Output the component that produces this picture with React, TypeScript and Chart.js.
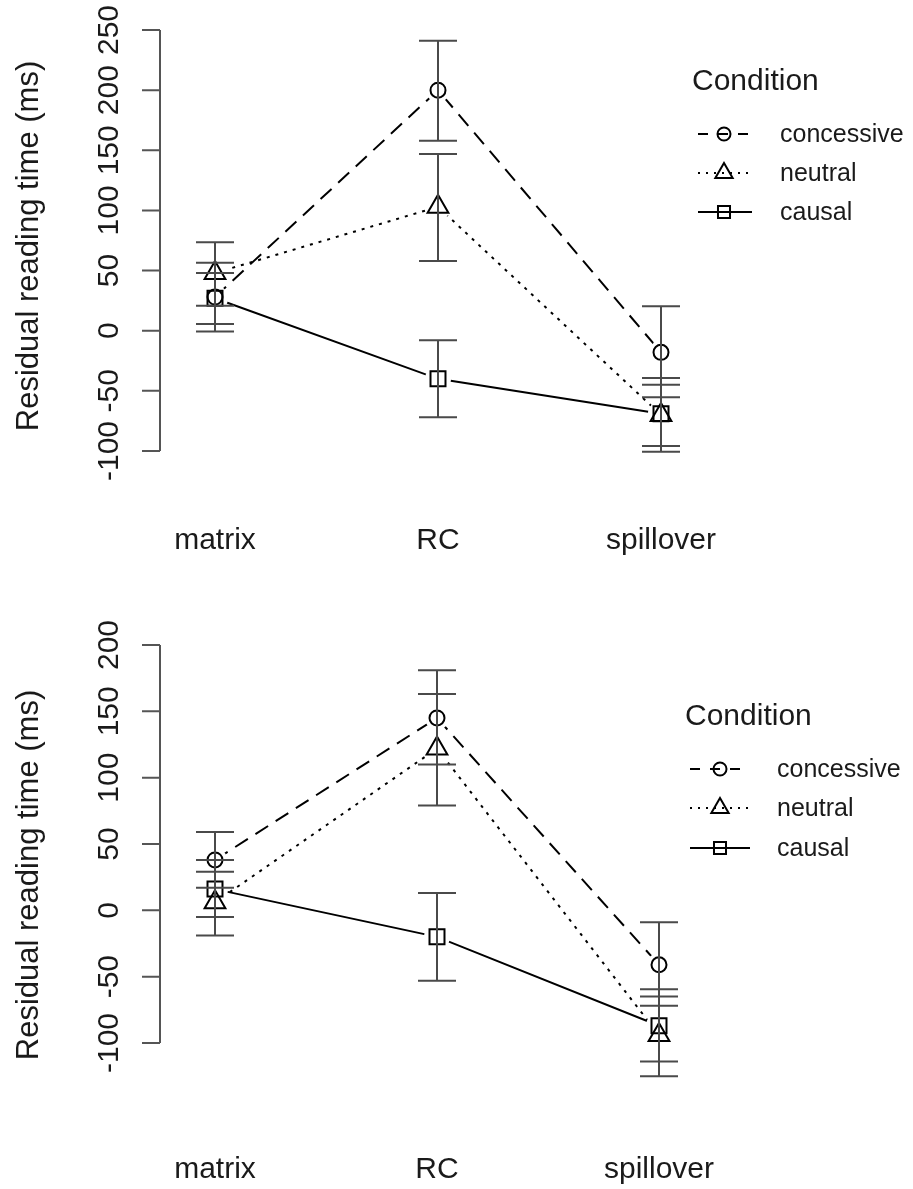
import React, { useEffect, useRef } from "react";
import { Chart, registerables } from "chart.js";

Chart.register(...registerables);

// ---------- data ----------
const categories = ["matrix", "RC", "spillover"];
const seriesNames = ["concessive", "neutral", "causal"];
const legendTitle = "Condition";
const yTitle = "Residual reading time (ms)";

// top panel
const topConcessive = [28, 200, -18];
const topConcessiveLo = [-0.6, 158, -55.3];
const topConcessiveHi = [56.4, 241, 20.3];
const topNeutral = [48, 103, -70];
const topNeutralLo = [20.8, 58, -100.6];
const topNeutralHi = [73.6, 147, -39.4];
const topCausal = [27, -40, -69];
const topCausalLo = [5.6, -72, -95.8];
const topCausalHi = [48, -8, -45];
const topTicks = [-100, -50, 0, 50, 100, 150, 200, 250];

// bottom panel
const botConcessive = [38, 145, -41];
const botConcessiveLo = [17, 110, -72];
const botConcessiveHi = [59, 181, -9];
const botNeutral = [6, 122, -94];
const botNeutralLo = [-19, 79, -125];
const botNeutralHi = [29, 163, -65];
const botCausal = [16, -20, -87];
const botCausalLo = [-5, -53, -114];
const botCausalHi = [38, 13, -59.5];
const botTicks = [-100, -50, 0, 50, 100, 150, 200];

// ---------- styles ----------
const FONT = '"Liberation Sans", Arial, sans-serif';
const TEXT = "#1a1a1a";
const AXIS = "#555555";
const ERR = "#4a4a4a";
const LINE_DASH = [[15, 9], [3, 6], []];
const LEGEND_DASH = [[10, 10], [2, 6], []];
const POINT_STYLE = ["circle", "triangle", "rect"];
const POINT_R = [7.5, 12, 10.6];
const LEGEND_R = [6.5, 10, 8.5];
const HALO_R = [12, 13, 13];

type Series = { values: number[]; lo: number[]; hi: number[] };

type PanelCfg = {
  width: number;
  height: number;
  series: Series[];
  ticks: number[];
  yMin: number;
  yMax: number;
  xMin: number;
  xMax: number;
  pad: { left: number; right: number; top: number; bottom: number };
  labelBaseline: number;
  titleX: number;
  titleCenterY: number;
  legend: { titleX: number; titleBaseline: number; rows: number[]; lineX0: number; lineX1: number; markerX: number; textX: number };
};

const topPanel: PanelCfg = {
  width: 913,
  height: 594,
  series: [
    { values: topConcessive, lo: topConcessiveLo, hi: topConcessiveHi },
    { values: topNeutral, lo: topNeutralLo, hi: topNeutralHi },
    { values: topCausal, lo: topCausalLo, hi: topCausalHi },
  ],
  ticks: topTicks,
  yMin: -100,
  yMax: 250,
  xMin: 1 - 55 / 223,
  xMax: 3 + 55 / 223,
  pad: { left: 160, right: 197, top: 30, bottom: 143 },
  labelBaseline: 549,
  titleX: 38,
  titleCenterY: 246,
  legend: { titleX: 692, titleBaseline: 90, rows: [134, 173, 212], lineX0: 698, lineX1: 752, markerX: 724, textX: 780 },
};

const botPanel: PanelCfg = {
  width: 913,
  height: 595,
  series: [
    { values: botConcessive, lo: botConcessiveLo, hi: botConcessiveHi },
    { values: botNeutral, lo: botNeutralLo, hi: botNeutralHi },
    { values: botCausal, lo: botCausalLo, hi: botCausalHi },
  ],
  ticks: botTicks,
  yMin: -100,
  yMax: 200,
  xMin: 1 - 55 / 222,
  xMax: 3 + 55 / 222,
  pad: { left: 160, right: 199, top: 51, bottom: 146 },
  labelBaseline: 584,
  titleX: 38,
  titleCenterY: 281,
  legend: { titleX: 685, titleBaseline: 131, rows: [175, 214, 254], lineX0: 690, lineX1: 750, markerX: 720, textX: 777 },
};

function drawMarker(ctx: CanvasRenderingContext2D, style: string, x: number, y: number, r: number) {
  ctx.beginPath();
  if (style === "circle") {
    ctx.arc(x, y, r, 0, Math.PI * 2);
  } else if (style === "triangle") {
    let rad = 0;
    const tw = (2 * Math.PI) / 3;
    ctx.moveTo(x + Math.sin(rad) * r, y - Math.cos(rad) * r);
    rad += tw;
    ctx.lineTo(x + Math.sin(rad) * r, y - Math.cos(rad) * r);
    rad += tw;
    ctx.lineTo(x + Math.sin(rad) * r, y - Math.cos(rad) * r);
    ctx.closePath();
  } else {
    const s = Math.SQRT1_2 * r;
    ctx.rect(x - s, y - s, 2 * s, 2 * s);
  }
  ctx.stroke();
}

function buildChart(canvas: HTMLCanvasElement, p: PanelCfg) {
  const lineSets = p.series.map((s, k) => ({
    label: seriesNames[k],
    data: s.values.map((v, i) => ({ x: i + 1, y: v })),
    showLine: true,
    borderColor: "#000",
    borderWidth: 2,
    borderDash: LINE_DASH[k],
    pointRadius: 0,
    fill: false,
    order: 1,
  }));
  const markerSets = p.series.map((s, k) => ({
    label: seriesNames[k] + " points",
    data: s.values.map((v, i) => ({ x: i + 1, y: v })),
    showLine: false,
    pointStyle: POINT_STYLE[k],
    pointRadius: POINT_R[k],
    pointBorderColor: "#000",
    pointBorderWidth: 2,
    pointBackgroundColor: "rgba(0,0,0,0)",
    order: 0,
    isMarker: true,
    seriesIndex: k,
  }));

  let haloDone = false;

  const decor = {
    id: "decor",
    beforeDatasetsDraw() {
      haloDone = false;
    },
    beforeDatasetDraw(chart: any, args: any) {
      const ds = chart.data.datasets[args.index];
      if (!ds.isMarker || haloDone) return;
      haloDone = true;
      const ctx = chart.ctx;
      ctx.save();
      ctx.fillStyle = "#ffffff";
      chart.data.datasets.forEach((d: any, di: number) => {
        if (!d.isMarker) return;
        const meta = chart.getDatasetMeta(di);
        meta.data.forEach((pt: any) => {
          ctx.beginPath();
          ctx.arc(pt.x, pt.y, HALO_R[d.seriesIndex], 0, Math.PI * 2);
          ctx.fill();
        });
      });
      ctx.restore();
    },
    afterDatasetsDraw(chart: any) {
      const ctx: CanvasRenderingContext2D = chart.ctx;
      const xs = chart.scales.x;
      const ys = chart.scales.y;
      const area = chart.chartArea;
      ctx.save();

      // error bars
      ctx.strokeStyle = ERR;
      ctx.lineWidth = 2;
      ctx.setLineDash([]);
      p.series.forEach((s) => {
        s.values.forEach((_, i) => {
          const x = xs.getPixelForValue(i + 1);
          const yl = ys.getPixelForValue(s.lo[i]);
          const yh = ys.getPixelForValue(s.hi[i]);
          ctx.beginPath();
          ctx.moveTo(x, yl);
          ctx.lineTo(x, yh);
          ctx.moveTo(x - 19, yl);
          ctx.lineTo(x + 19, yl);
          ctx.moveTo(x - 19, yh);
          ctx.lineTo(x + 19, yh);
          ctx.stroke();
        });
      });

      // y axis
      const ax = area.left;
      ctx.strokeStyle = AXIS;
      ctx.lineWidth = 2;
      ctx.beginPath();
      ctx.moveTo(ax, ys.getPixelForValue(p.ticks[0]));
      ctx.lineTo(ax, ys.getPixelForValue(p.ticks[p.ticks.length - 1]));
      p.ticks.forEach((t) => {
        const y = ys.getPixelForValue(t);
        ctx.moveTo(ax - 18, y);
        ctx.lineTo(ax, y);
      });
      ctx.stroke();

      ctx.fillStyle = TEXT;
      ctx.font = `30px ${FONT}`;
      ctx.textAlign = "center";
      ctx.textBaseline = "alphabetic";
      p.ticks.forEach((t) => {
        const y = ys.getPixelForValue(t);
        ctx.save();
        ctx.translate(ax - 42, y);
        ctx.rotate(-Math.PI / 2);
        ctx.fillText(String(t), 0, 0);
        ctx.restore();
      });

      // y title
      ctx.save();
      ctx.font = `31px ${FONT}`;
      ctx.translate(p.titleX, p.titleCenterY);
      ctx.rotate(-Math.PI / 2);
      ctx.fillText(yTitle, 0, 0);
      ctx.restore();

      // x labels
      ctx.font = `30px ${FONT}`;
      categories.forEach((c, i) => {
        ctx.fillText(c, xs.getPixelForValue(i + 1), p.labelBaseline);
      });

      // legend
      const L = p.legend;
      ctx.textAlign = "left";
      ctx.font = `30px ${FONT}`;
      ctx.fillText(legendTitle, L.titleX, L.titleBaseline);
      ctx.font = `25px ${FONT}`;
      ctx.textBaseline = "middle";
      seriesNames.forEach((n, k) => {
        const y = L.rows[k];
        ctx.strokeStyle = "#000";
        ctx.lineWidth = 2;
        ctx.setLineDash(LEGEND_DASH[k]);
        ctx.beginPath();
        ctx.moveTo(L.lineX0, y);
        ctx.lineTo(L.lineX1, y);
        ctx.stroke();
        ctx.setLineDash([]);
        drawMarker(ctx, POINT_STYLE[k], L.markerX, y, LEGEND_R[k]);
        ctx.fillText(n, L.textX, y + 1);
      });

      ctx.restore();
    },
  };

  return new Chart(canvas, {
    type: "scatter",
    data: { datasets: [...lineSets, ...markerSets] as any },
    options: {
      animation: false,
      responsive: false,
      maintainAspectRatio: false,
      events: [],
      layout: { padding: p.pad },
      scales: {
        x: { type: "linear", min: p.xMin, max: p.xMax, display: false },
        y: { type: "linear", min: p.yMin, max: p.yMax, display: false },
      },
      plugins: { legend: { display: false }, tooltip: { enabled: false } },
    } as any,
    plugins: [decor as any],
  });
}

function Panel({ cfg }: { cfg: PanelCfg }) {
  const ref = useRef<HTMLCanvasElement | null>(null);
  useEffect(() => {
    if (!ref.current) return;
    const chart = buildChart(ref.current, cfg);
    return () => chart.destroy();
  }, [cfg]);
  return (
    <canvas
      ref={ref}
      width={cfg.width}
      height={cfg.height}
      style={{ display: "block", width: cfg.width, height: cfg.height }}
    />
  );
}

export default function App() {
  return (
    <div style={{ position: "absolute", left: 0, top: 0, width: 913, height: 1189, background: "#fff" }}>
      <Panel cfg={topPanel} />
      <Panel cfg={botPanel} />
    </div>
  );
}
